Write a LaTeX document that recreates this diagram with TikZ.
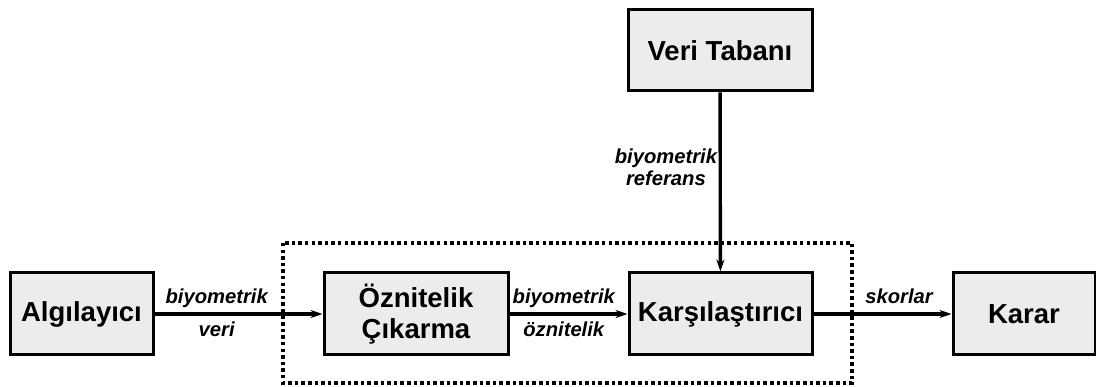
\documentclass[tikz,border=0pt]{standalone}
\usepackage{fontspec}
\setmainfont{Liberation Sans}
\usetikzlibrary{arrows.meta}
\definecolor{boxgray}{RGB}{236,236,236}
\begin{document}
\begin{tikzpicture}[x=1pt,y=-1pt,
  blockbox/.style={draw=black, line width=3pt, fill=boxgray, minimum width=#1, minimum height=82pt,
    inner sep=0pt, font=\fontsize{27.5}{31}\selectfont\bfseries, align=center},
  blockbox/.default=183pt,
  flow/.style={line width=3.4pt, -{Stealth[length=12pt,width=8pt]}},
  lbl/.style={font=\fontsize{20.2}{22}\selectfont\bfseries\itshape, align=center, inner sep=0pt},
  over/.style={lbl, anchor=base, yshift=10pt},
  under/.style={lbl, anchor=base, yshift=-23pt}]
  \useasboundingbox (0,0) rectangle (1096,387);
  % processing stage enclosure
  \draw[line width=3.5pt, dash pattern=on 3.5pt off 3.1pt] (283,243) rectangle (852,383);
  % blocks
  \node[blockbox=143pt] (sensor) at (81.5,314) {Algılayıcı};
  \node[blockbox=184pt] (feat) at (416,314) {Öznitelik\\Çıkarma};
  \node[blockbox=183pt] (comp) at (720.5,314) {Karşılaştırıcı};
  \node[blockbox=142pt] (dec) at (1024,314) {Karar};
  \node[blockbox=184pt, minimum height=81pt] (db) at (720,50.5) {Veri Tabanı};
  % connectors
  \draw[flow] (sensor) -- node[over, pos=0.37] {biyometrik} node[under, pos=0.37] {veri} (feat);
  \draw[flow] (feat) -- node[over, pos=0.46] {biyometrik} node[under, pos=0.46] {öznitelik} (comp);
  \draw[flow] (comp) -- node[over, pos=0.62] {skorlar} (dec);
  \draw[flow] (db) -- node[lbl, left, pos=0.42, inner sep=1.5pt] {biyometrik\\referans} (comp);
\end{tikzpicture}
\end{document}
